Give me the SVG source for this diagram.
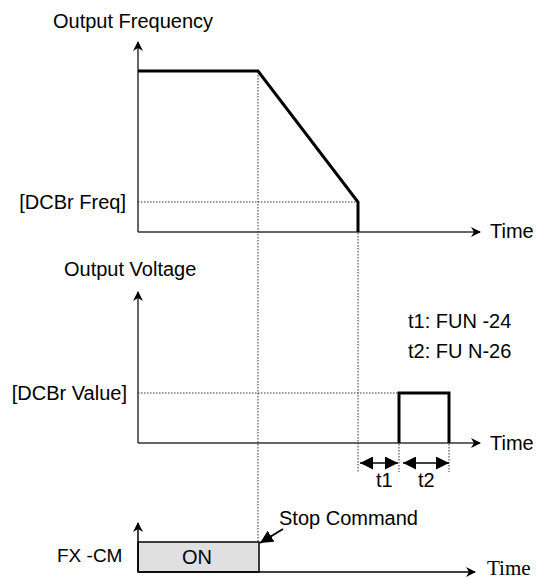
<svg xmlns="http://www.w3.org/2000/svg" width="537" height="579" viewBox="0 0 537 579">
<style>
text{font-family:"Liberation Sans",Arial,sans-serif;font-size:20px;fill:#000}
.serif{font-family:"Liberation Serif","Times New Roman",serif;font-size:21px}
.axis{stroke:#333;stroke-width:1.5;fill:none}
.thick{stroke:#000;stroke-width:3;fill:none}
.dot{stroke:#333;stroke-width:1;stroke-dasharray:1.5 1.5;fill:none}
.thin{stroke:#000;stroke-width:1.5;fill:none}
</style>
<defs>
<marker id="ah" viewBox="0 0 10 10" refX="9" refY="5" markerWidth="10" markerHeight="10" markerUnits="userSpaceOnUse" orient="auto-start-reverse">
<path d="M0,0 L10,5 L0,10 L3,5 Z" fill="#000"/>
</marker>
<marker id="dh" viewBox="0 0 10 10" refX="10" refY="5" markerWidth="13" markerHeight="13" markerUnits="userSpaceOnUse" orient="auto-start-reverse">
<path d="M0,0 L10,5 L0,10 Z" fill="#000"/>
</marker>
</defs>
<g id="labels">
<text x="53" y="28">Output Frequency</text>
<text x="126" y="209" text-anchor="end">[DCBr Freq]</text>
<text x="490" y="238">Time</text>
<text x="64" y="276">Output Voltage</text>
<text x="408" y="328">t1: FUN -24</text>
<text x="408" y="358">t2: FU N-26</text>
<text x="127" y="400" text-anchor="end">[DCBr Value]</text>
<text x="490" y="450">Time</text>
<text x="376" y="487">t1</text>
<text x="418" y="487">t2</text>
<text x="279" y="525">Stop Command</text>
<text x="57" y="562" style="font-size:19px">FX -CM</text>
<text class="serif" x="487" y="575">Time</text>
</g>
<g id="on-box">
<rect x="138" y="542" width="121" height="30" fill="#e0e0e0" stroke="#000" stroke-width="1.5"/>
<text x="197" y="564" text-anchor="middle">ON</text>
</g>
<g id="connectors">
<line class="axis" x1="138" y1="232" x2="138" y2="42" marker-end="url(#ah)"/>
<line class="axis" x1="138" y1="232" x2="480" y2="232" marker-end="url(#ah)"/>
<line class="axis" x1="138" y1="443" x2="138" y2="292" marker-end="url(#ah)"/>
<line class="axis" x1="138" y1="443" x2="480" y2="443" marker-end="url(#ah)"/>
<line class="thin" x1="138" y1="572" x2="138" y2="523" marker-end="url(#ah)"/>
<line class="thin" x1="138" y1="572" x2="475" y2="572" marker-end="url(#ah)"/>
<polyline class="thick" points="138,71 258,71 358,202 358,232"/>
<polyline class="thick" points="399,443 399,393 449,393 449,443"/>
<line class="dot" x1="258" y1="72" x2="258" y2="542"/>
<line class="dot" x1="138" y1="202" x2="357" y2="202"/>
<line class="dot" x1="358" y1="233" x2="358" y2="472"/>
<line class="dot" x1="138" y1="393" x2="398" y2="393"/>
<line class="dot" x1="399" y1="444" x2="399" y2="472"/>
<line class="dot" x1="449" y1="444" x2="449" y2="472"/>
<line class="thin" x1="360" y1="463" x2="398" y2="463" marker-start="url(#dh)" marker-end="url(#dh)"/>
<line class="thin" x1="403" y1="463" x2="449" y2="463" marker-start="url(#dh)" marker-end="url(#dh)"/>
<line x1="283" y1="529" x2="260" y2="543" stroke="#000" stroke-width="2" marker-end="url(#dh)"/>
</g>
</svg>
